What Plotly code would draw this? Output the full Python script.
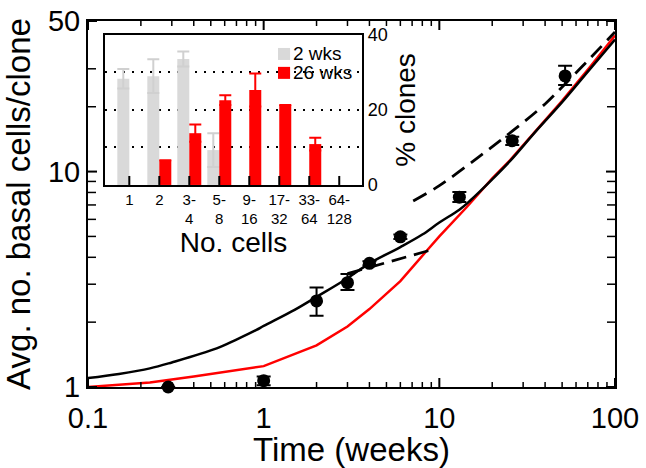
import numpy as np
import plotly.graph_objects as go

FONT = "Liberation Sans, Arial, sans-serif"

# ---- main panel data ----
obs_time = [0.286, 1, 2, 3, 4, 6, 13, 26, 52]
obs_mean = [1.0, 1.07, 2.51, 3.05, 3.75, 4.98, 7.61, 13.9, 27.8]
obs_err_plus = [0, 0.05, 0.39, 0.30, 0.08, 0.12, 0.42, 0.6, 3.2]
obs_err_minus = [0, 0.05, 0.37, 0.23, 0.08, 0.12, 0.39, 0.6, 2.6]

model_time = [0.1, 0.15, 0.225, 0.3, 0.54, 0.7, 0.91, 1, 1.5, 2, 3, 4, 6, 8, 10, 13, 15, 20, 25.3, 35, 50, 72, 100]
model_black = [1.10, 1.15, 1.22, 1.30, 1.51, 1.66, 1.84, 1.92, 2.28, 2.62, 3.2, 3.75, 4.46, 5.1, 5.8, 6.65, 7.34, 9.2, 11.2, 15.2, 21.0, 29.9, 41.0]

red_time = [0.1, 0.225, 0.4, 1, 2, 3, 4, 6, 8.5, 10, 14.3, 20, 25.3, 35, 50, 72, 100]
red_vals = [1.00, 1.05, 1.12, 1.25, 1.56, 1.91, 2.3, 3.1, 4.3, 5.0, 6.83, 9.3, 11.3, 15.3, 21.3, 30.6, 42.8]

early_fit_time = [3, 5, 9]
early_fit_vals = [3.36, 3.78, 4.33]

late_fit_time = [7.1, 10, 17, 26, 40, 52, 72, 100]
late_fit_vals = [7.3, 8.6, 11.8, 15.4, 20.6, 25.5, 33.5, 44.5]

x_ticks = [0.1, 1, 10, 100]
x_ticktext = ["0.1", "1", "10", "100"]
x_minor = [0.2, 0.3, 0.4, 0.5, 0.6, 0.7, 0.8, 0.9, 2, 3, 4, 5, 6, 7, 8, 9,
           20, 30, 40, 50, 60, 70, 80, 90]
y_ticks = [1, 10, 50]
y_ticktext = ["1", "10", "50"]
y_minor = [2, 3, 4, 5, 6, 7, 8, 9, 20, 30]

# ---- inset data ----
size_pos = [1, 2, 3, 4, 5, 6, 7, 8]
size_labels = ["1", "2", "3-<br>4", "5-<br>8", "9-<br>16", "17-<br>32", "33-<br>64", "64-<br>128"]
pct_2wk = [28.3, 29.0, 33.6, 9.3, None, None, None, None]
pct_2wk_err = [2.6, 4.5, 2.0, 4.5, 0, 0, 0, 0]
pct_26wk = [None, 6.6, 13.8, 22.6, 25.3, 21.3, 10.9, None]
pct_26wk_err = [0, 0, 2.3, 1.3, 4.4, 0, 1.7, 0]
pct_ticks = [0, 10, 20, 30, 40]
pct_ticktext = ["0", "", "20", "", "40"]

W, H = 646, 468
M = dict(l=88, r=31, t=21, b=81)
plot_h = H - M["t"] - M["b"]
plot_w = W - M["l"] - M["r"]
inset_xdom = [0.0323, 0.52]
inset_ydom = [0.552, 0.962]
inset_xrange = [0.19, 8.76]

fig = go.Figure()

fig.add_trace(go.Scatter(x=red_time, y=red_vals, mode="lines",
                         line=dict(color="#ff0000", width=2.5), showlegend=False))
fig.add_trace(go.Scatter(x=model_time, y=model_black, mode="lines", line_shape="spline",
                         line=dict(color="black", width=2.5), showlegend=False))
fig.add_trace(go.Scatter(x=early_fit_time, y=early_fit_vals, mode="lines",
                         line=dict(color="black", width=2.8, dash="15px,8px"), showlegend=False))
fig.add_trace(go.Scatter(x=late_fit_time, y=late_fit_vals, mode="lines", line_shape="spline",
                         line=dict(color="black", width=2.8, dash="15px,8px"), showlegend=False))
fig.add_trace(go.Scatter(x=obs_time, y=obs_mean, mode="markers",
                         marker=dict(color="black", size=13),
                         error_y=dict(type="data", array=obs_err_plus, arrayminus=obs_err_minus,
                                      color="black", thickness=2, width=7),
                         cliponaxis=False, showlegend=False))

fig.add_trace(go.Bar(x=size_pos, y=pct_2wk, xaxis="x2", yaxis="y2",
                     marker=dict(color="#d9d9d9", line=dict(width=0)),
                     error_y=dict(type="data", array=pct_2wk_err, color="#d0d0d0", thickness=2, width=6),
                     showlegend=False))
fig.add_trace(go.Bar(x=size_pos, y=pct_26wk, xaxis="x2", yaxis="y2",
                     marker=dict(color="#ff0000", line=dict(width=0)),
                     error_y=dict(type="data", array=pct_26wk_err, color="#ff0000", thickness=2, width=6),
                     showlegend=False))

x_range = [-1, 2]
y_range = [0, float(np.log10(50))]

fig.update_layout(
    width=W, height=H,
    margin=dict(**M, autoexpand=False),
    paper_bgcolor="white", plot_bgcolor="white",
    font=dict(family=FONT, color="black"),
    barmode="group", bargap=0.2, bargroupgap=0,
    xaxis=dict(type="log", range=x_range, tickmode="array", tickvals=x_ticks, ticktext=x_ticktext,
               tickfont=dict(size=29), ticks="", ticklabelstandoff=4,
               showline=True, linecolor="black", linewidth=2, mirror=True,
               showgrid=False, zeroline=False, automargin=False,
               title=dict(text="Time (weeks)", font=dict(size=33), standoff=4)),
    yaxis=dict(type="log", range=y_range, tickmode="array", tickvals=y_ticks, ticktext=y_ticktext,
               tickfont=dict(size=29), ticks="",
               showline=True, linecolor="black", linewidth=2, mirror=True,
               showgrid=False, zeroline=False, automargin=False,
               title=dict(text="Avg. no. basal cells/clone", font=dict(size=33), standoff=8)),
    xaxis2=dict(domain=inset_xdom, anchor="y2", range=inset_xrange,
                tickmode="array", tickvals=size_pos, ticktext=size_labels, tickfont=dict(size=15),
                showline=True, linecolor="black", linewidth=2, mirror=True, ticks="",
                showgrid=False, zeroline=False, automargin=False,
                title=dict(text="No. cells", font=dict(size=28), standoff=2)),
    yaxis2=dict(domain=inset_ydom, anchor="x2", range=[0, 40], side="right",
                tickmode="array", tickvals=pct_ticks, ticktext=pct_ticktext, tickfont=dict(size=18),
                showline=True, linecolor="black", linewidth=2, mirror=True, ticks="",
                showgrid=True, gridcolor="black", gridwidth=1.5, griddash="2px,7px",
                zeroline=False, automargin=False,
                title=dict(text="% clones", font=dict(size=28), standoff=9)),
)

# ---- inward tick marks, placed from the tick arrays ----
def xfrac(v):
    return float((np.log10(v) - x_range[0]) / (x_range[1] - x_range[0]))

def yfrac(v):
    return float((np.log10(v) - y_range[0]) / (y_range[1] - y_range[0]))

minor_line = dict(color="black", width=1.5)
tick_line = dict(color="black", width=2)

# x ticks (bottom and top) as thin filled rectangles in paper units
for vals, length, half_w in [(x_ticks, 9, 1.0), (x_minor, 5, 0.75)]:
    L = length / plot_h
    d = half_w / plot_w
    for v in vals:
        f = xfrac(v)
        for y0, y1 in [(0, L), (1 - L, 1)]:
            fig.add_shape(type="rect", xref="paper", yref="paper",
                          x0=f - d, x1=f + d, y0=y0, y1=y1,
                          fillcolor="black", line=dict(width=0), layer="above")
# y ticks (left and right)
for vals, length, ln in [(y_ticks, 9, tick_line), (y_minor, 8, minor_line)]:
    L = length / plot_w
    for v in vals:
        f = yfrac(v)
        fig.add_shape(type="line", xref="x domain", yref="y domain",
                      x0=0, x1=L, y0=f, y1=f, line=ln)
        fig.add_shape(type="line", xref="x domain", yref="y domain",
                      x0=1, x1=1 - L, y0=f, y1=f, line=ln)
# inset bottom ticks
inset_px_per_unit = plot_w * (inset_xdom[1] - inset_xdom[0]) / (inset_xrange[1] - inset_xrange[0])
for v in size_pos:
    d = 1.0 / inset_px_per_unit
    fig.add_shape(type="rect", xref="x2", yref="paper",
                  x0=v - d, x1=v + d, y0=inset_ydom[0], y1=inset_ydom[0] + 9 / plot_h,
                  fillcolor="black", line=dict(width=0), layer="above")

legend_items = [("2 wks", "#d9d9d9", 0.873), ("26 wks", "#ff0000", 0.747)]
for label, col, yc in legend_items:
    fig.add_shape(type="rect", xref="x2 domain", yref="y2 domain",
                  x0=0.673, x1=0.72, y0=yc - 0.04, y1=yc + 0.04,
                  fillcolor=col, line=dict(width=0))
    fig.add_annotation(text=label, xref="x2 domain", yref="y2 domain",
                       x=0.725, y=yc, xanchor="left", yanchor="middle",
                       showarrow=False, font=dict(size=19, family=FONT, color="black"))

fig.write_html("out.html", config={"displayModeBar": False},
               post_script="document.body.style.margin='0';")
